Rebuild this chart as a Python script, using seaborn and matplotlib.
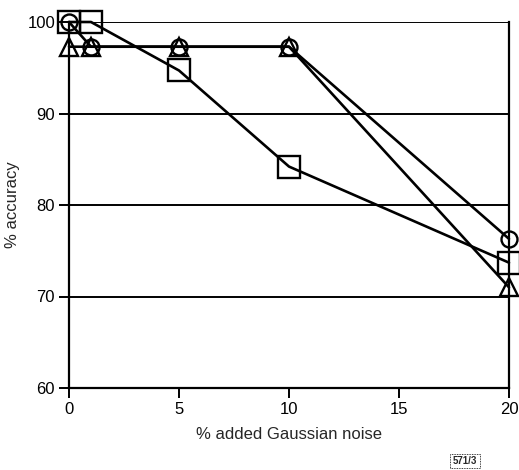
import matplotlib
matplotlib.use("Agg")
import matplotlib.pyplot as plt
import seaborn as sns
import pandas as pd

noise = [0, 1, 5, 10, 20]
acc_circle = [100.0, 97.3, 97.3, 97.3, 76.3]
acc_square = [100.0, 100.0, 94.7, 84.2, 73.7]
acc_triangle = [97.3, 97.3, 97.3, 97.3, 71.0]
y_ticks = [60, 70, 80, 90, 100]
x_ticks = [0, 5, 10, 15, 20]

sns.set_theme(style="white")
plt.rcParams["font.family"] = ["Liberation Sans", "DejaVu Sans"]

fig = plt.figure(figsize=(5.19, 4.70), dpi=100)
ax = fig.add_axes([69 / 519, 1 - 388 / 470, (509 - 69) / 519, (388 - 22) / 470])

for yv in [70, 80, 90, 100]:
    ax.axhline(yv, color="black", lw=1.4, zorder=1)

series = [
    (acc_square, "s", 15.5),
    (acc_triangle, "^", 12.5),
    (acc_circle, "o", 11.5),
]
for vals, mk, ms in series:
    df = pd.DataFrame({"x": noise, "y": vals})
    sns.lineplot(data=df, x="x", y="y", ax=ax, color="black", lw=1.9,
                 marker=mk, markersize=ms, markerfacecolor="none",
                 markeredgecolor="black", markeredgewidth=1.7, zorder=3,
                 clip_on=False)

ax.set_xlim(0, 20)
ax.set_ylim(60, 100)
ax.set_xticks(x_ticks)
ax.set_yticks(y_ticks)
ax.set_xlabel("% added Gaussian noise", fontsize=12, labelpad=7)
ax.set_ylabel("% accuracy", fontsize=12, labelpad=5)
ax.tick_params(axis="both", which="major", direction="out", length=7,
               width=1.4, color="black", labelsize=12, labelcolor="black",
               bottom=True, left=True, pad=3)
for side in ["left", "bottom", "right"]:
    ax.spines[side].set_visible(True)
    ax.spines[side].set_color("black")
    ax.spines[side].set_linewidth(1.6)
ax.spines["top"].set_visible(False)
ax.grid(False)

fig.text(465 / 519, 1 - 461 / 470, "571/3", fontsize=7, fontweight="bold",
         ha="center", va="center",
         bbox=dict(boxstyle="square,pad=0.25", fc="white", ec="black",
                   lw=0.6, ls=(0, (1, 1))))

fig.savefig("out.png", dpi=100)
